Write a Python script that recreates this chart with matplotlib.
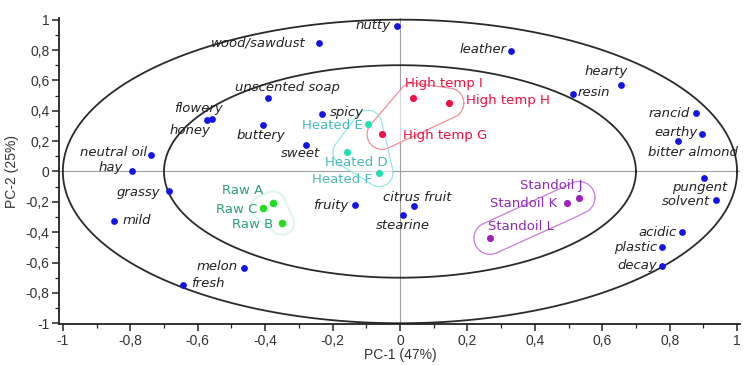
import numpy as np
import matplotlib
matplotlib.use("Agg")
import matplotlib.pyplot as plt
from matplotlib.ticker import MultipleLocator, FuncFormatter

# ---------------- data ----------------
desc_names = ["nutty", "wood/sawdust", "leather", "hearty", "resin", "rancid", "earthy",
              "bitter almond", "pungent", "solvent", "acidic", "plastic", "decay",
              "unscented soap", "flowery", "honey", "buttery", "spicy", "sweet",
              "neutral oil", "hay", "grassy", "mild", "melon", "fresh", "fruity",
              "citrus fruit", "stearine"]
desc_x = [-0.01, -0.24, 0.33, 0.656, 0.512, 0.878, 0.897, 0.825, 0.902, 0.938, 0.837,
          0.777, 0.777, -0.391, -0.558, -0.572, -0.407, -0.231, -0.279, -0.739, -0.795,
          -0.685, -0.849, -0.462, -0.643, -0.133, 0.042, 0.009]
desc_y = [0.96, 0.848, 0.795, 0.57, 0.512, 0.384, 0.244, 0.199, -0.044, -0.187, -0.40,
          -0.50, -0.62, 0.483, 0.344, 0.338, 0.305, 0.378, 0.172, 0.11, 0.0, -0.132,
          -0.326, -0.636, -0.75, -0.22, -0.225, -0.285]

raw_names = ["Raw A", "Raw C", "Raw B"]
raw_x = [-0.376, -0.406, -0.35]
raw_y = [-0.21, -0.238, -0.338]

heated_names = ["Heated E", "Heated D", "Heated F"]
heated_x = [-0.095, -0.157, -0.062]
heated_y = [0.31, 0.126, -0.007]

high_names = ["High temp I", "High temp H", "High temp G"]
high_x = [0.039, 0.145, -0.053]
high_y = [0.483, 0.45, 0.245]

stand_names = ["Standoil J", "Standoil K", "Standoil L"]
stand_x = [0.531, 0.496, 0.267]
stand_y = [-0.172, -0.21, -0.44]

circle_radii = [1.0, 0.7]

x_label = "PC-1 (47%)"
y_label = "PC-2 (25%)"

# ---------------- label placement (pixels) ----------------
label_pos = {
    "nutty": ("right", -6, 0), "wood/sawdust": ("right", -13, 0),
    "leather": ("right", -5, 1.5), "hearty": ("right", 7, 13),
    "resin": ("left", 5, 1), "rancid": ("right", -6, 0), "earthy": ("right", -5, 2),
    "bitter almond": ("left", -30, -11), "pungent": ("right", 23, -9),
    "solvent": ("right", -6, -1.5), "acidic": ("right", -5, 0),
    "plastic": ("right", -5, -0.5), "decay": ("right", -5, 0),
    "unscented soap": ("left", -33, 11), "flowery": ("right", 11, 10.5),
    "honey": ("right", 3, -10), "buttery": ("left", -26, -10),
    "spicy": ("left", 8, 2), "sweet": ("right", 14, -8.5),
    "neutral oil": ("right", -4, 2), "hay": ("right", -9, 4),
    "grassy": ("right", -9, -1), "mild": ("left", 9, 0),
    "melon": ("right", -7, 1.5), "fresh": ("left", 8, 1.5),
    "fruity": ("right", -7, -1), "citrus fruit": ("center", 3, 8),
    "stearine": ("center", 0, -11),
    "Raw A": ("right", -10, 13), "Raw C": ("right", -6, -1.5), "Raw B": ("right", -9, -1.5),
    "Heated E": ("right", -5, -1.5), "Heated D": ("left", -22, -10),
    "Heated F": ("right", -7, -7),
    "High temp I": ("left", -8, 14.5), "High temp H": ("left", 17, 3),
    "High temp G": ("left", 21, -1),
    "Standoil J": ("right", 4, 12), "Standoil K": ("right", -10, 0),
    "Standoil L": ("left", -2, 12),
}

# ---------------- figure ----------------
fig = plt.figure(figsize=(7.48, 3.65), dpi=100)
ax = fig.add_axes([0.0795, 0.1123, 0.9104, 0.838])
ax.set_xlim(-1.01, 1.01)
ax.set_ylim(-1.005, 1.01)

for s in ["top", "right"]:
    ax.spines[s].set_visible(False)
for s in ["left", "bottom"]:
    ax.spines[s].set_linewidth(1.3)
    ax.spines[s].set_color("#222222")

ax.xaxis.set_major_locator(MultipleLocator(0.2))
ax.xaxis.set_minor_locator(MultipleLocator(0.1))
ax.yaxis.set_major_locator(MultipleLocator(0.2))
ax.yaxis.set_minor_locator(MultipleLocator(0.1))

def fmt(v, pos):
    if abs(v) < 1e-9:
        return "0"
    s = ("%.1f" % v).rstrip("0").rstrip(".")
    return s.replace(".", ",")

narrow = ["Liberation Sans Narrow", "Liberation Sans", "DejaVu Sans"]

ax.xaxis.set_major_formatter(FuncFormatter(fmt))
ax.yaxis.set_major_formatter(FuncFormatter(fmt))
ax.tick_params(which="major", direction="out", length=5, width=1.1, color="#222222",
               labelsize=10, labelcolor="#333333", pad=2)
ax.tick_params(which="minor", direction="out", length=3, width=0.9, color="#222222")
for lab in ax.get_xticklabels() + ax.get_yticklabels():
    lab.set_family(narrow)

ax.set_xlabel(x_label, fontsize=10, color="#333333", labelpad=0, family=narrow)
ax.set_ylabel(y_label, fontsize=10, color="#333333", labelpad=5, family=narrow)

# zero lines
ax.axhline(0, color="#a0a0a0", lw=0.8, zorder=1)
ax.axvline(0, color="#a0a0a0", lw=0.8, zorder=1)

# correlation circles
t = np.linspace(0, 2 * np.pi, 400)
for r in circle_radii:
    ax.plot(r * np.cos(t), r * np.sin(t), color="#2a2a2a", lw=1.3, zorder=2)

# group outlines (rounded convex hull in pixel-like space)
SX, SY = 337.0, 151.0

def hull(points):
    pts = sorted(set(points))
    if len(pts) <= 2:
        return pts
    def cross(o, a, b):
        return (a[0]-o[0])*(b[1]-o[1]) - (a[1]-o[1])*(b[0]-o[0])
    lower, upper = [], []
    for p in pts:
        while len(lower) >= 2 and cross(lower[-2], lower[-1], p) <= 0:
            lower.pop()
        lower.append(p)
    for p in reversed(pts):
        while len(upper) >= 2 and cross(upper[-2], upper[-1], p) <= 0:
            upper.pop()
        upper.append(p)
    return lower[:-1] + upper[:-1]

def outline(xs, ys, r):
    P = np.array(hull([(x * SX, y * SY) for x, y in zip(xs, ys)]))
    th = np.linspace(0, 2 * np.pi, 300)
    U = np.stack([np.cos(th), np.sin(th)], axis=1)
    idx = np.argmax(U @ P.T, axis=1)
    B = P[idx] + r * U
    return B[:, 0] / SX, B[:, 1] / SY

for xs, ys, r, col, lw, a in [
    (high_x, high_y, 15, "#f08090", 0.9, 0.9),
    (stand_x, stand_y, 16, "#c070d0", 0.9, 0.9),
    (heated_x, heated_y, 14, "#80e0e0", 0.9, 0.8),
    (raw_x, raw_y, 12, "#c8f0e0", 1.5, 0.6),
]:
    bx, by = outline(xs, ys, r)
    ax.fill(bx, by, color="white", alpha=0.6, zorder=1.5, lw=0)
    ax.plot(bx, by, color=col, lw=lw, alpha=a, zorder=2.5)

# points
ax.scatter(desc_x, desc_y, s=24, color="#1414e6", zorder=4, lw=0)
ax.scatter(raw_x, raw_y, s=30, color="#22dd22", zorder=4, lw=0)
ax.scatter(heated_x, heated_y, s=26, color="#22e0b0", zorder=4, lw=0)
ax.scatter(high_x, high_y, s=26, color="#ee1040", zorder=4, lw=0)
ax.scatter(stand_x, stand_y, s=26, color="#a020c0", zorder=4, lw=0)

def put_labels(names, xs, ys, color, style):
    for n, x, y in zip(names, xs, ys):
        ha, dx, dy = label_pos[n]
        ax.annotate(n, (x, y), xytext=(dx, dy), textcoords="offset pixels",
                    ha=ha, va="center", fontsize=9.5, color=color, style=style,
                    zorder=5, annotation_clip=False)

put_labels(desc_names, desc_x, desc_y, "#222222", "italic")
put_labels(raw_names, raw_x, raw_y, "#2f9e78", "normal")
put_labels(heated_names, heated_x, heated_y, "#4ab8b8", "normal")
put_labels(high_names, high_x, high_y, "#ee1040", "normal")
put_labels(stand_names, stand_x, stand_y, "#8a2ab8", "normal")

fig.savefig("out.png", dpi=100)
